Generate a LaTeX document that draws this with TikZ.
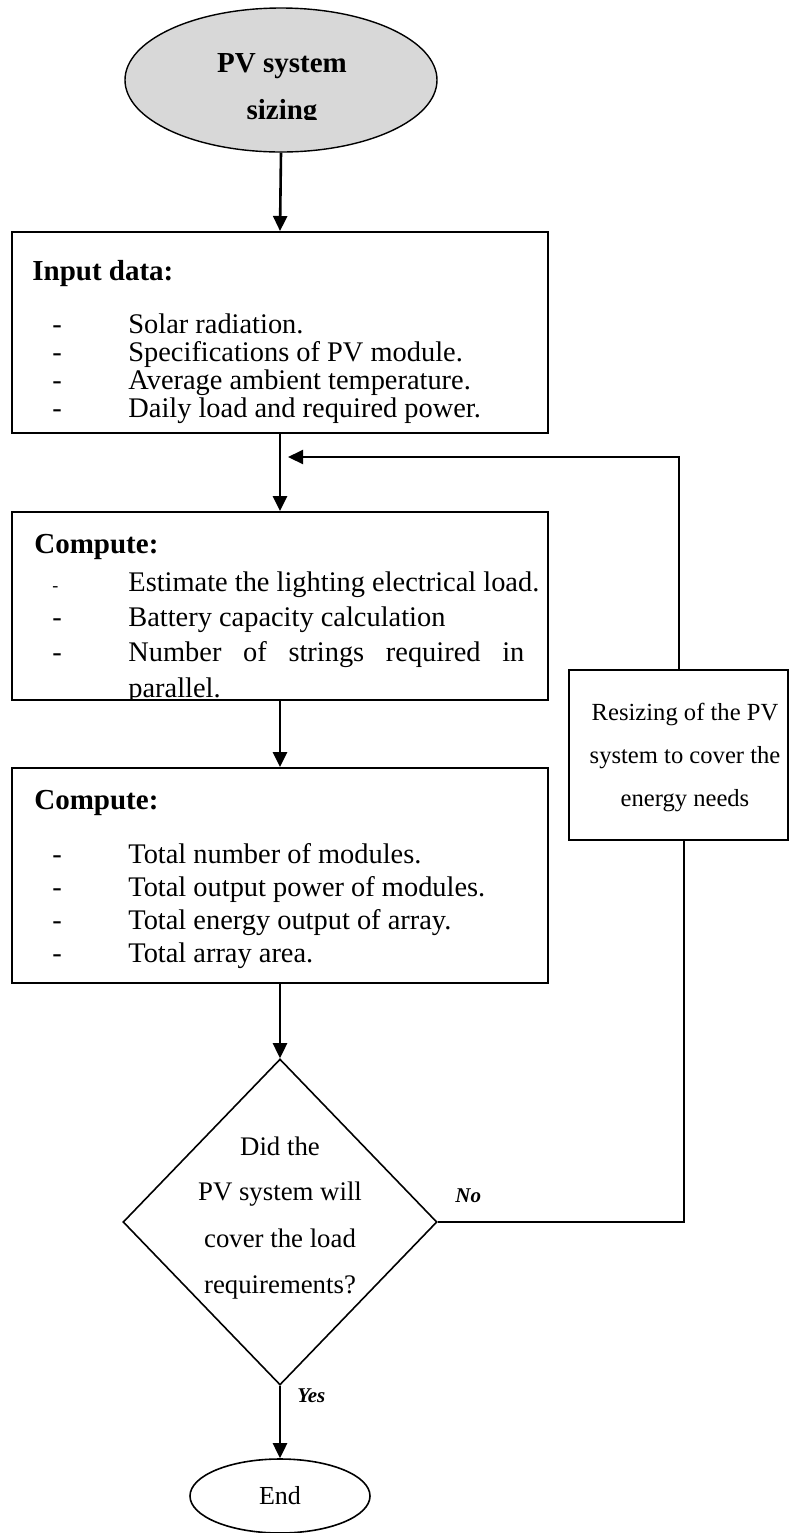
\documentclass[tikz,border=0pt]{standalone}
\usepackage{fontspec}
\setmainfont{Liberation Serif}
\usetikzlibrary{shapes.geometric,arrows.meta}
\definecolor{ellgray}{RGB}{216,216,216}
\begin{document}
\begin{tikzpicture}[x=0.5pt,y=-0.5pt,
  box/.style={draw, line width=1pt, rectangle, inner sep=0pt},
  txt/.style={inner sep=0pt, anchor=base west},
  ctr/.style={inner sep=0pt, anchor=base},
  itemfont/.style={font=\fontsize{14.2pt}{15pt}\selectfont},
  headfont/.style={font=\fontsize{14.5pt}{16pt}\selectfont\bfseries},
  dfont/.style={font=\fontsize{13.4pt}{14pt}\selectfont},
  rfont/.style={font=\fontsize{12.3pt}{13pt}\selectfont},
  lbl/.style={inner sep=0pt, anchor=base west, font=\fontsize{10.5pt}{12pt}\selectfont\bfseries\itshape},
  arr/.style={-{Triangle[length=7.5pt,width=7pt]}, line width=1.3pt},
  conn/.style={line width=0.9pt}]
\useasboundingbox (0,0) rectangle (788,1533);

% start ellipse
\node[ellipse, draw, fill=ellgray, line width=0.7pt, minimum width=156pt, minimum height=72pt, inner sep=0pt] (start) at (281,80) {};
\node[ctr, headfont] (st1) at (282,72) {PV system};
\begin{scope}
  \clip (130,90) rectangle (430,119.5);
  \node[ctr, headfont] (st2) at (282,119) {sizing};
\end{scope}

% input box
\node[box, minimum width=268pt, minimum height=100.5pt] (input) at (280,332.5) {};
\node[txt, headfont] (inh) at (32,280) {Input data:};
\node[txt, itemfont] (in1) at (52,333) {\makebox[38pt][l]{-}Solar radiation.};
\node[txt, itemfont] (in2) at (52,361) {\makebox[38pt][l]{-}Specifications of PV module.};
\node[txt, itemfont] (in3) at (52,389) {\makebox[38pt][l]{-}Average ambient temperature.};
\node[txt, itemfont] (in4) at (52,417) {\makebox[38pt][l]{-}Daily load and required power.};

% compute 1
\node[box, minimum width=268pt, minimum height=94pt] (comp1) at (280,606) {};
\node[txt, headfont] (c1h) at (34,553) {Compute:};
\node[txt, itemfont] (c11) at (52,591) {\makebox[38pt][l]{\fontsize{9pt}{10pt}\selectfont -}Estimate the lighting electrical load.};
\node[txt, itemfont] (c12) at (52,626) {\makebox[38pt][l]{-}Battery capacity calculation};
\node[txt, itemfont] (c13) at (52,661) {\makebox[38pt][l]{-}\makebox[198pt][s]{Number\ of\ strings\ required\ in}};
\begin{scope}
  \clip (14,640) rectangle (546,699);
  \node[txt, itemfont] (c14) at (128,697) {parallel.};
\end{scope}

% compute 2
\node[box, minimum width=268pt, minimum height=107.5pt] (comp2) at (280,875.5) {};
\node[txt, headfont] (c2h) at (34,809) {Compute:};
\node[txt, itemfont] (c21) at (52,863) {\makebox[38pt][l]{-}Total number of modules.};
\node[txt, itemfont] (c22) at (52,896) {\makebox[38pt][l]{-}Total output power of modules.};
\node[txt, itemfont] (c23) at (52,929) {\makebox[38pt][l]{-}Total energy output of array.};
\node[txt, itemfont] (c24) at (52,962) {\makebox[38pt][l]{-}Total array area.};

% decision
\node[diamond, draw, line width=0.8pt, minimum width=157pt, minimum height=163pt, inner sep=0pt] (dec) at (280,1222) {};
\node[ctr, dfont] (d1) at (280,1155) {Did the};
\node[ctr, dfont] (d2) at (280,1200) {PV system will};
\node[ctr, dfont] (d3) at (280,1247) {cover the load};
\node[ctr, dfont] (d4) at (280,1293) {requirements?};

% end
\node[ellipse, draw, line width=0.8pt, minimum width=90pt, minimum height=37pt, inner sep=0pt, font=\fontsize{13pt}{14pt}\selectfont] (end) at (280,1496) {End};

% resizing box
\node[box, line width=0.8pt, minimum width=109.5pt, minimum height=85pt] (resize) at (678.5,755) {};
\node[ctr, rfont] (r1) at (685,720) {Resizing of the PV};
\node[ctr, rfont] (r2) at (685,763) {system to cover the};
\node[ctr, rfont] (r3) at (685,806) {energy needs};

% labels
\node[lbl] (no) at (455,1202) {No};
\node[lbl] (yes) at (297,1402) {Yes};

% connectors
\coordinate (fbend) at (288,457);
\coordinate (rb) at (684,840);
\draw[arr] (start.south) -- (input.north);
\draw[arr] (input.south) -- (comp1.north);
\draw[arr] (comp1.south) -- (comp2.north);
\draw[arr] (comp2.south) -- (dec.north);
\draw[arr] (dec.south) -- (end.north);
\draw[arr, line width=1pt] (resize.north) |- (fbend);
\draw[conn] (dec.east) -| (rb);
\end{tikzpicture}
\end{document}
